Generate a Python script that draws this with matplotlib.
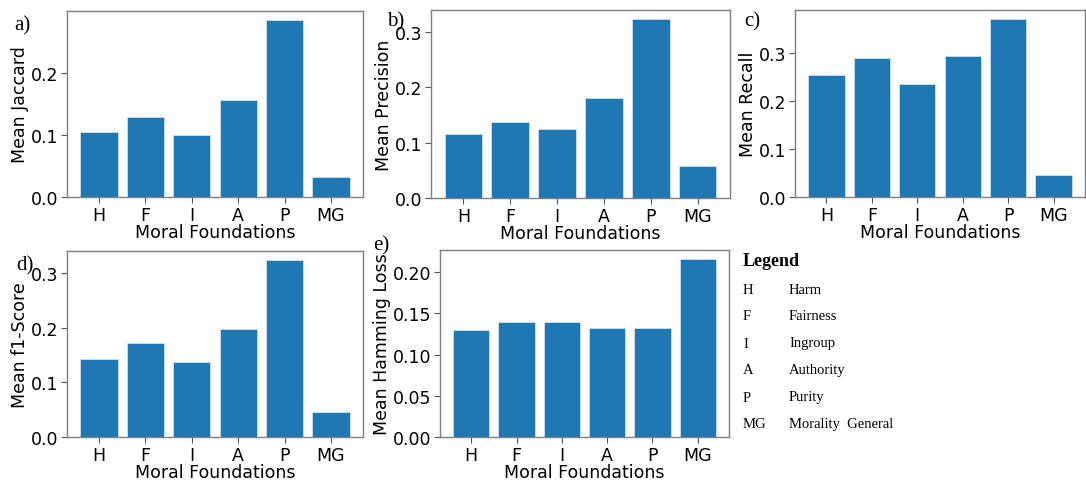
import numpy as np
import matplotlib.pyplot as plt

W, H = 1086, 481

foundations = ["H", "F", "I", "A", "P", "MG"]
jaccard = [0.104, 0.128, 0.100, 0.156, 0.285, 0.032]
precision = [0.116, 0.138, 0.124, 0.181, 0.323, 0.057]
recall = [0.254, 0.288, 0.234, 0.293, 0.370, 0.045]
f1_score = [0.143, 0.173, 0.138, 0.198, 0.325, 0.046]
hamming = [0.130, 0.139, 0.139, 0.132, 0.132, 0.216]

legend_abbr = ["H", "F", "I", "A", "P", "MG"]
legend_names = ["Harm", "Fairness", "Ingroup", "Authority", "Purity", "Morality  General"]

serif = ["Liberation Serif", "DejaVu Serif"]
FS = 12.5


def px_axes(fig, x0, y0, x1, y1):
    # pixel box (top-left origin) -> figure fraction
    return fig.add_axes([x0 / W, 1 - y1 / H, (x1 - x0) / W, (y1 - y0) / H])


def bar_panel(ax, values, ylabel, yticks):
    ax.bar(foundations, values, width=0.8, color="#1f77b4",
           edgecolor="#cfe0ee", linewidth=0.6)
    ax.set_ylabel(ylabel, fontsize=FS, labelpad=1)
    ax.set_xlabel("Moral Foundations", fontsize=FS, labelpad=-1)
    ax.set_yticks(yticks)
    ax.tick_params(labelsize=FS, length=4, color="#555555", pad=2.5)
    for s in ax.spines.values():
        s.set_color("#7f7f7f")
        s.set_linewidth(1.0)


fig = plt.figure(figsize=(W / 100, H / 100), dpi=100)

ax_a = px_axes(fig, 67, 12, 363, 198)
bar_panel(ax_a, jaccard, "Mean Jaccard", [0.0, 0.1, 0.2])
ax_b = px_axes(fig, 431, 11, 730, 199)
bar_panel(ax_b, precision, "Mean Precision", [0.0, 0.1, 0.2, 0.3])
ax_c = px_axes(fig, 795, 11, 1085, 198)
bar_panel(ax_c, recall, "Mean Recall", [0.0, 0.1, 0.2, 0.3])
ax_d = px_axes(fig, 67, 252, 363, 438)
bar_panel(ax_d, f1_score, "Mean f1-Score", [0.0, 0.1, 0.2, 0.3])
ax_e = px_axes(fig, 440, 251, 729, 438)
bar_panel(ax_e, hamming, "Mean Hamming Loss", [0.0, 0.05, 0.10, 0.15, 0.20])
ax_e.set_yticklabels(["0.00", "0.05", "0.10", "0.15", "0.20"])

# panel letters
for lab, x, y in [("a)", 14, 26), ("b)", 387, 22), ("c)", 744, 22),
                  ("d)", 16, 266), ("e)", 373, 246)]:
    fig.text(x / W, 1 - y / H, lab, fontsize=15, family=serif, va="center")

# text legend
fig.text(743 / W, 1 - 262 / H, "Legend", fontsize=13, fontweight="bold",
         family=serif, va="center")
for i, (ab, nm) in enumerate(zip(legend_abbr, legend_names)):
    y = 290 + i * 27
    fig.text(743 / W, 1 - y / H, ab, fontsize=10.5, family=serif, va="center")
    fig.text(789 / W, 1 - y / H, nm, fontsize=10.5, family=serif, va="center")

fig.savefig("out.png", dpi=100)
